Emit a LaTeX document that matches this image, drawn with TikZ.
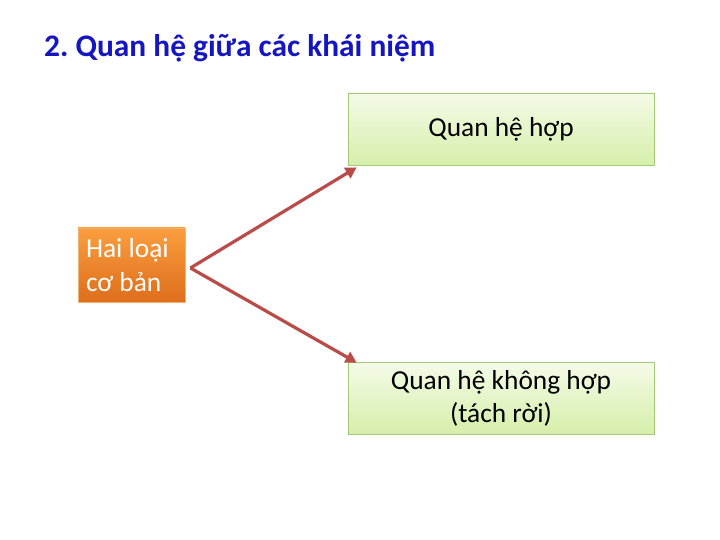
\documentclass[tikz,border=0pt]{standalone}
\usepackage{fontspec}
\setmainfont{Carlito}
\usepackage{xcolor}
\definecolor{titleblue}{RGB}{22,22,192}
\definecolor{boxgreenA}{RGB}{244,251,232}
\definecolor{boxgreenB}{RGB}{214,239,170}
\definecolor{boxgreenL}{RGB}{165,200,120}
\definecolor{boxorangeA}{RGB}{250,158,62}
\definecolor{boxorangeB}{RGB}{222,110,28}
\definecolor{boxorangeL}{RGB}{246,176,112}
\definecolor{arrowred}{RGB}{185,76,72}
\usetikzlibrary{arrows.meta}
\frenchspacing

\tikzset{
  kindbox/.style={draw=boxgreenL, line width=0.8bp, top color=boxgreenA, bottom color=boxgreenB,
    minimum width=306bp, minimum height=72bp, align=center, font=\fontsize{27.5}{33}\selectfont, inner sep=0pt},
  basebox/.style={draw=boxorangeL, line width=0.8bp, top color=boxorangeA, bottom color=boxorangeB,
    minimum width=107bp, minimum height=74bp, text width=91bp, inner xsep=8bp, inner ysep=0pt,
    align=flush left, text=white, font=\fontsize{27.5}{34}\selectfont},
  link/.style={-{Triangle[length=11bp,width=12bp]}, arrowred, line width=3.2bp, line join=miter}
}

\begin{document}
\begin{tikzpicture}[x=1bp, y=-1bp]
\useasboundingbox[fill=white] (0,0) rectangle (720,540);
% title
\node[anchor=base west, text=titleblue, font=\fontsize{31.5}{36}\selectfont\bfseries, inner sep=0pt] (title) at (44,57) {2. Quan hệ giữa các khái niệm};
% boxes
\node[kindbox] (union) at (501,129) {Quan hệ hợp};
\node[kindbox] (apart) at (501,398) {Quan hệ không hợp\\(tách rời)};
\node[basebox] (base) at (131.5,265) {Hai loại\\cơ bản};
% arrows
\coordinate (fork) at ([xshift=5bp,yshift=-3bp]base.east);
\draw[link] (fork) -- ([xshift=9bp,yshift=-2bp]union.south west);
\draw[link] (fork) -- ([xshift=9bp,yshift=-1bp]apart.north west);
\end{tikzpicture}
\end{document}
